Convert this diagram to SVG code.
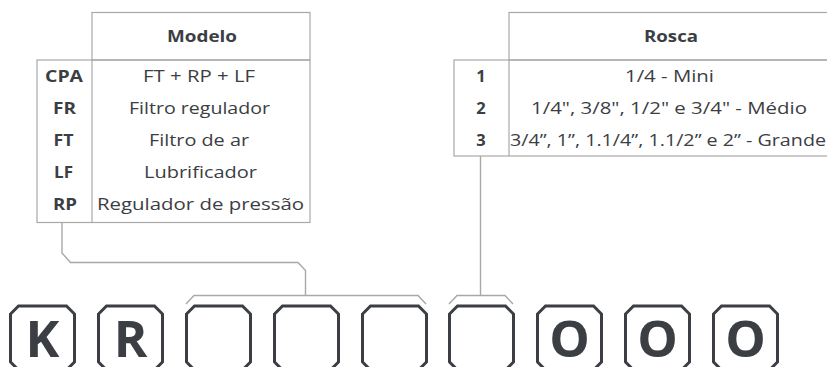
<svg xmlns="http://www.w3.org/2000/svg" width="827" height="367" viewBox="0 0 827 367">
<style>
.tb{fill:none;stroke:#a8a8a8;stroke-width:1.2}
.t{font-family:"Open Sans","Liberation Sans",sans-serif;font-size:16.5px;fill:#3b3e43;text-anchor:middle}
.b{font-weight:700}
.con{fill:none;stroke:#a8a8a8;stroke-width:1.4}
.box{fill:#fff;stroke:#3b3e43;stroke-width:3}
.L{font-family:"Open Sans","Liberation Sans",sans-serif;font-weight:700;font-size:51px;fill:#3b3e43;text-anchor:middle}
</style>
<defs>
<path id="oct" d="M8,0 H56 L64,8 V56 L56,64 H8 L0,56 V8 Z"/>
</defs>
<rect width="827" height="367" fill="#fff"/>
<g id="tabela-modelo">
<rect class="tb" x="92" y="12.5" width="218" height="47.5"/>
<rect class="tb" x="37" y="60" width="273" height="162.5"/>
<line class="tb" x1="92" y1="60" x2="92" y2="222.5"/>
<text class="t b" x="202" y="42" textLength="70" lengthAdjust="spacingAndGlyphs">Modelo</text>
<text class="t b" x="64" y="82" textLength="38" lengthAdjust="spacingAndGlyphs">CPA</text>
<text class="t b" x="64.5" y="114" textLength="23" lengthAdjust="spacingAndGlyphs">FR</text>
<text class="t b" x="63.5" y="146" textLength="20" lengthAdjust="spacingAndGlyphs">FT</text>
<text class="t b" x="63.5" y="178" textLength="19" lengthAdjust="spacingAndGlyphs">LF</text>
<text class="t b" x="65" y="210" textLength="24" lengthAdjust="spacingAndGlyphs">RP</text>
<text class="t" x="199" y="82" textLength="112" lengthAdjust="spacingAndGlyphs">FT + RP + LF</text>
<text class="t" x="199.5" y="114" textLength="141" lengthAdjust="spacingAndGlyphs">Filtro regulador</text>
<text class="t" x="199" y="146" textLength="100" lengthAdjust="spacingAndGlyphs">Filtro de ar</text>
<text class="t" x="200.5" y="178" textLength="113" lengthAdjust="spacingAndGlyphs">Lubrificador</text>
<text class="t" x="200.5" y="210" textLength="207" lengthAdjust="spacingAndGlyphs">Regulador de pressão</text>
</g>
<g id="tabela-rosca">
<rect class="tb" x="509" y="12.5" width="330" height="47.5"/>
<rect class="tb" x="454" y="60" width="385" height="96"/>
<line class="tb" x1="509" y1="60" x2="509" y2="156"/>
<text class="t b" x="671" y="42" textLength="54" lengthAdjust="spacingAndGlyphs">Rosca</text>
<text class="t b" x="481" y="82">1</text>
<text class="t b" x="481" y="114">2</text>
<text class="t b" x="481" y="146">3</text>
<text class="t" x="669.5" y="82" textLength="89" lengthAdjust="spacingAndGlyphs">1/4 - Mini</text>
<text class="t" x="669" y="114" textLength="276" lengthAdjust="spacingAndGlyphs">1/4", 3/8", 1/2" e 3/4" - Médio</text>
<text class="t" x="668" y="146" textLength="316" lengthAdjust="spacingAndGlyphs">3/4”, 1”, 1.1/4”, 1.1/2” e 2” - Grande</text>
</g>
<g id="connectors">
<polyline class="con" points="62,223 62,253 70.5,262.5 298,262.5 305.5,270.5 305.5,295.5"/>
<polyline class="con" points="186,304 194,295.5 418,295.5 426,304"/>
<line class="con" x1="480.5" y1="156" x2="480.5" y2="295.5"/>
<polyline class="con" points="449,304 457,295.5 505,295.5 513,304"/>
</g>
<g id="box-1"><use href="#oct" class="box" x="10.5" y="306"/><text class="L" x="42.5" y="357">K</text></g>
<g id="box-2"><use href="#oct" class="box" x="98.5" y="306"/><text class="L" x="130.5" y="357">R</text></g>
<g id="box-3"><use href="#oct" class="box" x="186.5" y="306"/></g>
<g id="box-4"><use href="#oct" class="box" x="274.5" y="306"/></g>
<g id="box-5"><use href="#oct" class="box" x="362.5" y="306"/></g>
<g id="box-6"><use href="#oct" class="box" x="449.5" y="306"/></g>
<g id="box-7"><use href="#oct" class="box" x="537.5" y="306"/><text class="L" x="569.5" y="357">O</text></g>
<g id="box-8"><use href="#oct" class="box" x="625.5" y="306"/><text class="L" x="657.5" y="357">O</text></g>
<g id="box-9"><use href="#oct" class="box" x="713.5" y="306"/><text class="L" x="745.5" y="357">O</text></g>
</svg>
